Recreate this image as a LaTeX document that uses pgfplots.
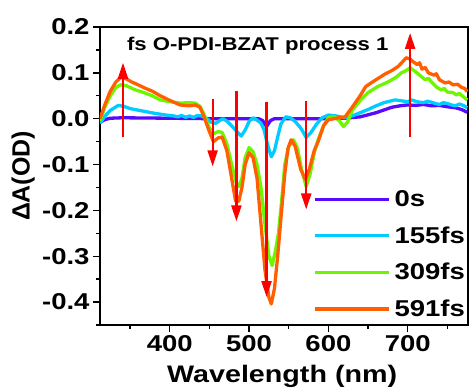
\documentclass[border=0pt]{standalone}
\usepackage{fontspec}
\setmainfont{Liberation Sans}[FakeStretch=1.2]
\newfontfamily\ylabfont{Liberation Sans}
\usepackage{pgfplots}
\pgfplotsset{compat=1.18}
\usetikzlibrary{arrows.meta}
\definecolor{cPurple}{RGB}{88,10,250}
\definecolor{cCyan}{RGB}{0,204,255}
\definecolor{cGreen}{RGB}{110,245,0}
\definecolor{cOrange}{RGB}{255,95,0}
\begin{document}
\begin{tikzpicture}
\begin{axis}[
  scale only axis, width=368bp, height=298bp,
  xmin=312, xmax=776, ymin=-0.45, ymax=0.2,
  axis line style={line width=1.4bp},
  xtick={400,500,600,700}, minor xtick={350,450,550,650,750},
  ytick={-0.4,-0.3,-0.2,-0.1,0,0.1,0.2},
  minor ytick={-0.45,-0.35,-0.25,-0.15,-0.05,0.05,0.15},
  tick align=outside, tickwidth=7bp, subtickwidth=4bp,
  every tick/.style={line width=1.4bp, black},
  xtick pos=bottom, ytick pos=left,
  /pgf/number format/assume math mode=true,
  tick label style={font=\fontsize{23}{26}\selectfont\bfseries},
  yticklabel style={/pgf/number format/fixed, /pgf/number format/fixed zerofill, /pgf/number format/precision=1},
  xticklabel style={/pgf/number format/1000 sep={}},
  xlabel={Wavelength (nm)},
  xlabel style={font=\fontsize{24}{26}\selectfont\bfseries, at={(axis description cs:0.495,-0.171)}, anchor=center},
  ylabel={\ylabfont\fontsize{25}{27}\selectfont\bfseries ΔA(OD)},
  ylabel style={at={(axis description cs:-0.209,0.5)}, anchor=center},
  legend style={draw=none, fill=none, at={(rel axis cs:0.579,0.458)}, anchor=north west,
    font=\fontsize{23}{26}\selectfont\bfseries, row sep=14.5bp, inner sep=0pt,
    nodes={inner xsep=4bp}},
  legend cell align=left,
  legend image code/.code={\draw[#1] (0bp,0bp) -- (74bp,0bp);},
  every axis plot/.append style={line width=3.3bp, line join=round},
]
\addplot[cPurple] coordinates {
(312,-0.008)(318,-0.002)(325,0.001)(340,0.002)(400,0.001)(450,0.000)(500,0.000)(512,0.000)(517,-0.004)(522,-0.017)(527,-0.004)(532,0.000)(600,0.000)(620,0.001)(640,0.004)(660,0.013)(680,0.025)(690,0.028)(700,0.030)(710,0.029)(720,0.031)(730,0.028)(740,0.029)(750,0.026)(760,0.024)(768,0.020)(775,0.014)
};
\addlegendentry{0s}
\addplot[cCyan] coordinates {
(312,-0.010)(318,0.005)(325,0.018)(335,0.029)(342,0.027)(350,0.022)(365,0.017)(380,0.012)(395,0.008)(405,0.006)(410,0.004)(415,0.007)(420,0.003)(425,0.006)(430,0.003)(435,0.007)(440,0.006)(447,0.000)(452,-0.008)(458,-0.010)(463,-0.004)(467,0.000)(471,-0.004)(476,-0.012)(483,-0.025)(490,-0.038)(495,-0.025)(500,-0.006)(505,0.002)(510,-0.003)(515,-0.010)(519,-0.025)(523,-0.055)(528,-0.083)(532,-0.070)(536,-0.040)(540,-0.012)(546,0.004)(552,0.002)(558,-0.006)(565,-0.020)(572,-0.041)(578,-0.030)(585,-0.012)(592,0.002)(600,0.008)(610,0.006)(620,0.002)(630,0.006)(640,0.013)(650,0.020)(660,0.028)(670,0.035)(684,0.041)(692,0.039)(700,0.037)(705,0.041)(710,0.038)(715,0.036)(720,0.035)(725,0.038)(730,0.036)(735,0.033)(740,0.031)(745,0.035)(750,0.033)(755,0.030)(760,0.028)(765,0.032)(770,0.029)(775,0.024)
};
\addlegendentry{155fs}
\addplot[cGreen] coordinates {
(312,-0.005)(318,0.025)(325,0.050)(332,0.068)(338,0.074)(345,0.072)(355,0.064)(367,0.057)(378,0.050)(388,0.041)(400,0.037)(413,0.034)(425,0.035)(432,0.034)(438,0.027)(443,0.010)(449,-0.017)(455,-0.033)(461,-0.028)(466,-0.030)(472,-0.055)(478,-0.100)(484,-0.140)(487,-0.148)(491,-0.130)(495,-0.085)(500,-0.063)(505,-0.072)(510,-0.100)(515,-0.150)(520,-0.230)(525,-0.300)(529,-0.320)(533,-0.290)(537,-0.250)(541,-0.180)(545,-0.100)(550,-0.060)(556,-0.046)(561,-0.065)(566,-0.110)(572,-0.148)(577,-0.120)(582,-0.075)(587,-0.046)(594,-0.015)(600,0.002)(608,0.004)(614,-0.005)(619,-0.017)(624,-0.008)(630,0.018)(640,0.040)(650,0.057)(662,0.070)(675,0.080)(685,0.090)(692,0.100)(698,0.105)(703,0.111)(708,0.105)(715,0.095)(722,0.085)(726,0.088)(730,0.080)(737,0.068)(742,0.063)(746,0.066)(750,0.058)(757,0.057)(761,0.052)(765,0.055)(770,0.048)(775,0.041)
};
\addlegendentry{309fs}
\addplot[cOrange] coordinates {
(312,0.000)(318,0.030)(325,0.060)(332,0.080)(338,0.090)(345,0.087)(352,0.080)(360,0.074)(367,0.068)(378,0.060)(388,0.050)(400,0.040)(413,0.030)(425,0.028)(432,0.030)(438,0.025)(443,0.005)(449,-0.024)(455,-0.050)(461,-0.042)(466,-0.040)(472,-0.070)(478,-0.130)(483,-0.180)(487,-0.180)(491,-0.150)(495,-0.100)(500,-0.074)(505,-0.085)(510,-0.130)(515,-0.230)(520,-0.330)(525,-0.390)(528,-0.404)(532,-0.370)(536,-0.300)(540,-0.220)(545,-0.120)(549,-0.065)(553,-0.046)(558,-0.060)(565,-0.110)(571,-0.133)(576,-0.110)(582,-0.070)(587,-0.050)(594,-0.015)(600,-0.002)(613,0.002)(621,0.004)(630,0.025)(640,0.050)(647,0.070)(660,0.085)(672,0.098)(680,0.105)(688,0.114)(694,0.125)(698,0.133)(703,0.130)(707,0.124)(712,0.118)(715,0.122)(718,0.108)(722,0.112)(726,0.100)(733,0.095)(736,0.098)(740,0.085)(747,0.078)(752,0.080)(757,0.074)(763,0.075)(768,0.068)(772,0.066)(775,0.059)
};
\addlegendentry{591fs}
\begin{scope}[red, line width=2.2bp, -{Triangle[length=16bp,width=10bp]}]
\draw (axis cs:341,-0.041) -- (axis cs:341,0.122);
\draw (axis cs:454,0.043) -- (axis cs:454,-0.104);
\draw (axis cs:484,0.061) -- (axis cs:484,-0.224);
\draw (axis cs:522,0.037) -- (axis cs:522,-0.389);
\draw (axis cs:572,0.039) -- (axis cs:572,-0.198);
\draw (axis cs:703,-0.041) -- (axis cs:703,0.187);
\end{scope}
\node[anchor=west, font=\fontsize{18.5}{20}\selectfont\bfseries, inner sep=0pt] at (rel axis cs:0.073,0.936) {fs O-PDI-BZAT process 1};
\end{axis}
\pgfresetboundingbox
\path (-100bp,-63bp) rectangle (369bp,325bp);
\end{tikzpicture}
\end{document}
